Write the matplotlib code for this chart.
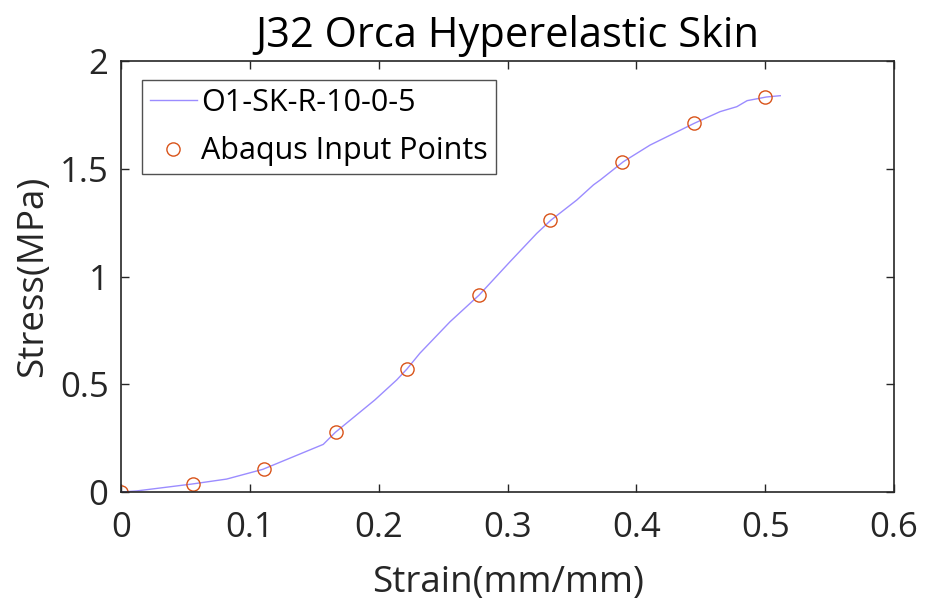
import matplotlib
matplotlib.use("Agg")
import matplotlib.pyplot as plt

plt.rcParams['font.family'] = ['Open Sans', 'DejaVu Sans']

# Continuous curve
curve_strain = [0.0, 0.0122, 0.0551, 0.082, 0.110, 0.157, 0.1664, 0.197, 0.214, 0.222,
                0.232, 0.2554, 0.278, 0.302, 0.3227, 0.3336, 0.3538, 0.3667, 0.372,
                0.390, 0.4107, 0.445, 0.465, 0.478, 0.486, 0.501, 0.5117]
curve_stress = [0.0, 0.005, 0.037, 0.060, 0.105, 0.221, 0.277, 0.427, 0.520, 0.571,
                0.644, 0.790, 0.914, 1.069, 1.200, 1.261, 1.355, 1.425, 1.448,
                1.533, 1.610, 1.711, 1.765, 1.788, 1.816, 1.833, 1.839]

# Abaqus input points
pts_strain = [0.0, 0.0556, 0.1111, 0.1667, 0.2222, 0.2778, 0.3333, 0.3889, 0.4444, 0.5]
pts_stress = [0.0, 0.037, 0.105, 0.277, 0.571, 0.914, 1.261, 1.533, 1.711, 1.833]

xticks = [0, 0.1, 0.2, 0.3, 0.4, 0.5, 0.6]
xticklabels = ['0', '0.1', '0.2', '0.3', '0.4', '0.5', '0.6']
yticks = [0, 0.5, 1, 1.5, 2]
yticklabels = ['0', '0.5', '1', '1.5', '2']

fig = plt.figure(figsize=(9.27, 6.07), dpi=100)
ax = fig.add_axes([121/927, 1-492/607, (894-121)/927, (492-61)/607])

dark = '#262626'
ax.plot(curve_strain, curve_stress, color='#9b8cff', lw=1.0, label='O1-SK-R-10-0-5')
ax.plot(pts_strain, pts_stress, linestyle='none', marker='o', markersize=9.5,
        markerfacecolor='none', markeredgecolor='#D95319', markeredgewidth=1.0,
        label='Abaqus Input Points')

ax.set_xlim(0, 0.6)
ax.set_ylim(0, 2)
ax.set_xticks(xticks)
ax.set_xticklabels(xticklabels)
ax.set_yticks(yticks)
ax.set_yticklabels(yticklabels)
ax.tick_params(direction='in', length=6, width=1.0, colors=dark, labelsize=25,
               top=True, right=True, pad=9)
ax.tick_params(axis='x', pad=14)
for s in ax.spines.values():
    s.set_color(dark)
    s.set_linewidth(1.2)

ax.set_xlabel('Strain(mm/mm)', fontsize=26.5, color=dark, labelpad=14)
ax.set_ylabel('Stress(MPa)', fontsize=26.5, color=dark, labelpad=6)
ax.set_title('J32 Orca Hyperelastic Skin', fontsize=30, color='black', pad=10)

leg = ax.legend(loc='upper left', fontsize=22, frameon=True, fancybox=False,
                edgecolor=dark, borderpad=0.25, handlelength=1.55, handletextpad=0.15,
                labelspacing=0.6, borderaxespad=0, bbox_to_anchor=(0.027, 0.955))
leg.get_frame().set_linewidth(1.0)

fig.savefig('out.png', dpi=100)
